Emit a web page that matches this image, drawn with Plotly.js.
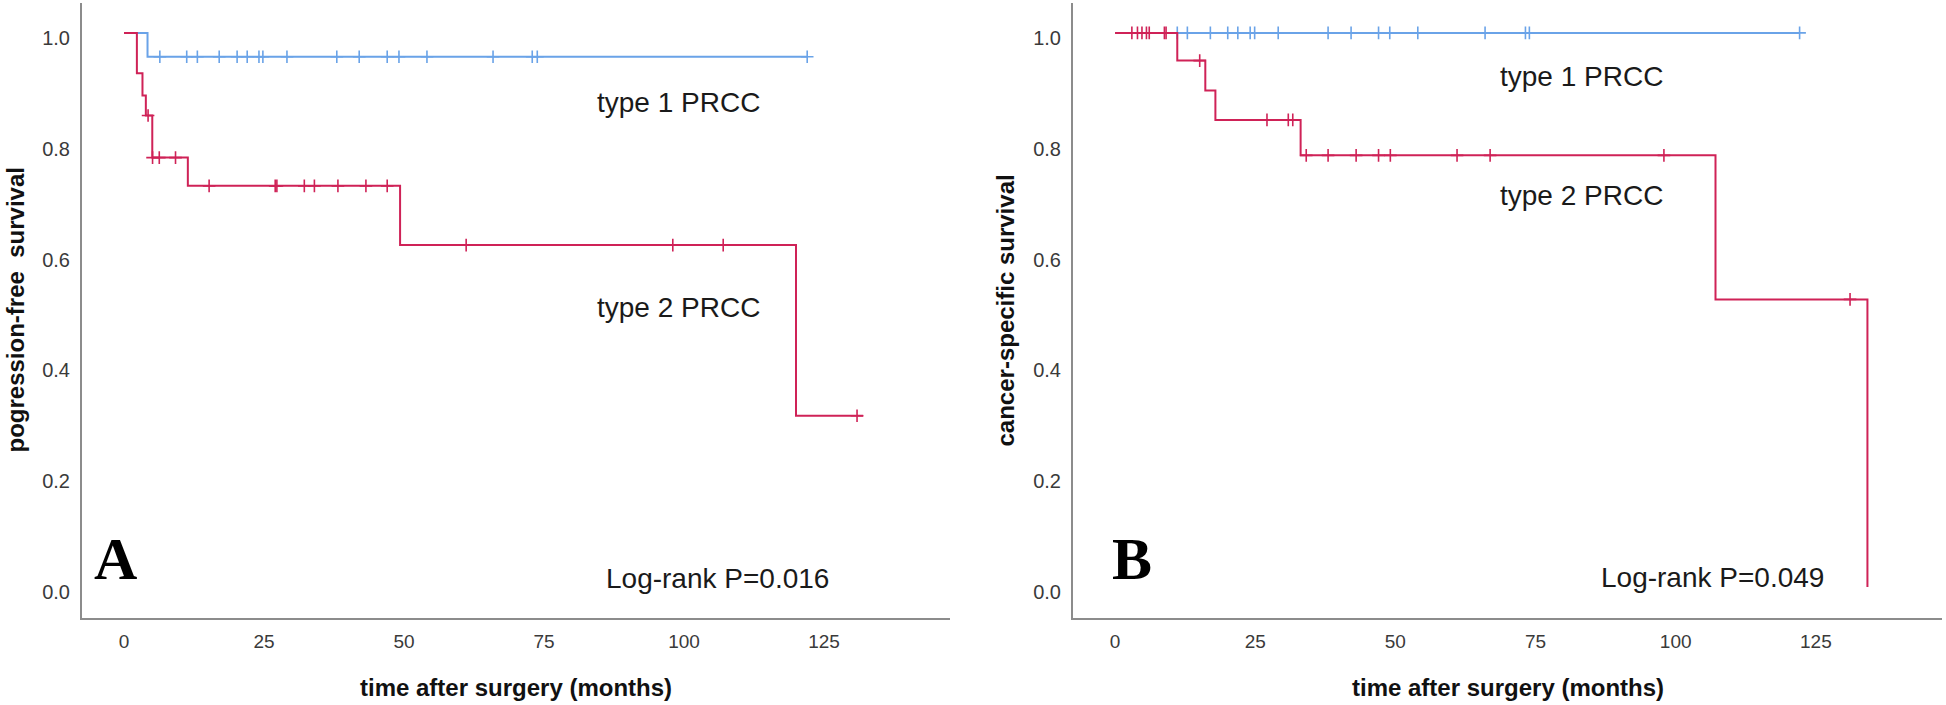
<!DOCTYPE html>
<html>
<head>
<meta charset="utf-8">
<script src="https://cdn.plot.ly/plotly-3.0.1.min.js"></script>
<style>html,body{margin:0;padding:0;background:#fff;}#chart{width:1946px;height:705px;}</style>
</head>
<body>
<div id="chart"></div>
<script>
// ---- Panel A: progression-free survival ----
const pfsType1Times = [0, 4.2, 122.0];
const pfsType1Surv  = [1, 0.957, 0.957];
const pfsType1Censor = [6.4, 11.2, 13.1, 17.0, 20.2, 22.0, 24.1, 24.8, 29.1, 38.0, 42.0, 47.0, 49.1, 54.1, 65.9, 72.9, 73.8, 122.0];

const pfsType2Times = [0, 2.3, 3.3, 3.9, 5.05, 11.4, 49.3, 120.0, 132.0];
const pfsType2Surv  = [1, 0.927, 0.887, 0.851, 0.775, 0.724, 0.617, 0.309, 0.309];
const pfsType2Censor = [4.3, 5.1, 6.3, 9.2, 15.2, 27.0, 27.3, 32.2, 34.0, 38.2, 43.2, 47.0, 61.1, 98.0, 107.0, 130.9];

// ---- Panel B: cancer-specific survival ----
const cssType1Times = [0, 122.1];
const cssType1Surv  = [1, 1];
const cssType1Censor = [11.1, 12.9, 17.0, 20.1, 21.9, 24.1, 24.9, 29.1, 38.0, 42.1, 47.0, 49.0, 54.0, 66.0, 73.2, 73.9, 122.1];

const cssType2Times = [0, 11.1, 16.1, 17.9, 33.1, 107.1, 134.2];
const cssType2Surv  = [1, 0.950, 0.896, 0.843, 0.779, 0.519, 0];
const cssType2Censor = [3.0, 4.0, 4.8, 5.6, 6.1, 8.8, 9.1, 15.1, 27.1, 30.9, 31.7, 34.1, 38.0, 43.0, 47.0, 49.1, 61.0, 66.9, 97.9, 131.1];

const xTicks = [0, 25, 50, 75, 100, 125];
const yTicks = [0, 0.2, 0.4, 0.6, 0.8, 1.0];
const yTickText = ['0.0', '0.2', '0.4', '0.6', '0.8', '1.0'];

const BLUE = '#6aa3e8';
const RED = '#cf2257';

function survAt(times, surv, t) {
  let s = surv[0];
  for (let i = 0; i < times.length; i++) { if (times[i] <= t) s = surv[i]; }
  return s;
}

function curve(times, surv, color, xa, ya) {
  return {x: times, y: surv, type: 'scatter', mode: 'lines', line: {shape: 'hv', color: color, width: 2},
          xaxis: xa, yaxis: ya, hoverinfo: 'skip', showlegend: false};
}
function censors(times, surv, cens, color, xa, ya) {
  return {x: cens, y: cens.map(t => survAt(times, surv, t)), type: 'scatter', mode: 'markers',
          marker: {symbol: 'cross-thin', size: 9, line: {color: color, width: 1.6}, color: color},
          xaxis: xa, yaxis: ya, hoverinfo: 'skip', showlegend: false};
}

const data = [
  curve(pfsType1Times, pfsType1Surv, BLUE, 'x', 'y'),
  censors(pfsType1Times, pfsType1Surv, pfsType1Censor, BLUE, 'x', 'y'),
  curve(pfsType2Times, pfsType2Surv, RED, 'x', 'y'),
  censors(pfsType2Times, pfsType2Surv, pfsType2Censor, RED, 'x', 'y'),
  curve(cssType1Times, cssType1Surv, BLUE, 'x2', 'y2'),
  censors(cssType1Times, cssType1Surv, cssType1Censor, BLUE, 'x2', 'y2'),
  curve(cssType2Times, cssType2Surv, RED, 'x2', 'y2'),
  censors(cssType2Times, cssType2Surv, cssType2Censor, RED, 'x2', 'y2')
];

const W = 1946, H = 705;
const yDom = [(H - 618) / H, (H - 3) / H];
const xDom1 = [82 / W, 950 / W];
const xDom2 = [1073 / W, 1942 / W];

function xAxis(dom, anchor) {
  return {domain: dom, anchor: anchor, range: [-7.5, 147.5], showgrid: false, zeroline: false,
          showline: true, linecolor: '#8c8c8c', linewidth: 2, ticks: '', tickvals: xTicks,
          tickfont: {family: 'Liberation Sans, Arial, sans-serif', size: 19, color: '#3a3a3a'},
          ticklabelstandoff: 5, fixedrange: true};
}
function yAxis(anchor) {
  return {domain: yDom, anchor: anchor, range: [-0.056, 1.054], showgrid: false, zeroline: false,
          showline: true, linecolor: '#8c8c8c', linewidth: 2, ticks: '', tickvals: yTicks, ticktext: yTickText,
          tickfont: {family: 'Liberation Sans, Arial, sans-serif', size: 20, color: '#3a3a3a'},
          ticklabelstandoff: 6, ticklabelshift: 5, fixedrange: true};
}

const txtFont = {family: 'Liberation Sans, Arial, sans-serif', size: 28, color: '#1a1a1a'};
const titleFont = {family: 'Liberation Sans, Arial, sans-serif', size: 24, color: '#111', weight: 'bold'};
const letterFont = {family: 'Liberation Serif, Times New Roman, serif', size: 60, color: '#000', weight: 'bold'};
const yMid = (yDom[0] + yDom[1]) / 2;

const annotations = [
  {xref: 'x', yref: 'y', x: 99.0, y: 0.875, text: 'type 1 PRCC', showarrow: false, font: txtFont},
  {xref: 'x', yref: 'y', x: 99.0, y: 0.504, text: 'type 2 PRCC', showarrow: false, font: txtFont},
  {xref: 'x', yref: 'y', x: 106.0, y: 0.016, text: 'Log-rank P=0.016', showarrow: false, font: txtFont},
  {xref: 'x', yref: 'y', x: -1.5, y: 0.05, text: 'A', showarrow: false, font: letterFont},
  {xref: 'x2', yref: 'y2', x: 83.2, y: 0.922, text: 'type 1 PRCC', showarrow: false, font: txtFont},
  {xref: 'x2', yref: 'y2', x: 83.2, y: 0.706, text: 'type 2 PRCC', showarrow: false, font: txtFont},
  {xref: 'x2', yref: 'y2', x: 106.6, y: 0.018, text: 'Log-rank P=0.049', showarrow: false, font: txtFont},
  {xref: 'x2', yref: 'y2', x: 3.0, y: 0.05, text: 'B', showarrow: false, font: letterFont},
  {xref: 'paper', yref: 'paper', x: 15 / W, y: yMid, xanchor: 'center', yanchor: 'middle', text: 'pogression-free\u00a0\u00a0survival', textangle: -90, showarrow: false, font: titleFont},
  {xref: 'paper', yref: 'paper', x: 1005 / W, y: yMid, xanchor: 'center', yanchor: 'middle', text: 'cancer-specific survival', textangle: -90, showarrow: false, font: titleFont},
  {xref: 'paper', yref: 'paper', x: (xDom1[0] + xDom1[1]) / 2, y: (H - 687) / H, xanchor: 'center', yanchor: 'middle', text: 'time after surgery (months)', showarrow: false, font: titleFont},
  {xref: 'paper', yref: 'paper', x: (xDom2[0] + xDom2[1]) / 2, y: (H - 687) / H, xanchor: 'center', yanchor: 'middle', text: 'time after surgery (months)', showarrow: false, font: titleFont}
];

const layout = {
  width: W, height: H, margin: {l: 0, r: 0, t: 0, b: 0},
  paper_bgcolor: '#fff', plot_bgcolor: '#fff', showlegend: false,
  xaxis: xAxis(xDom1, 'y'), yaxis: yAxis('x'),
  xaxis2: xAxis(xDom2, 'y2'), yaxis2: yAxis('x2'),
  annotations: annotations
};

Plotly.newPlot('chart', data, layout, {displayModeBar: false, staticPlot: true});
</script>
</body>
</html>
